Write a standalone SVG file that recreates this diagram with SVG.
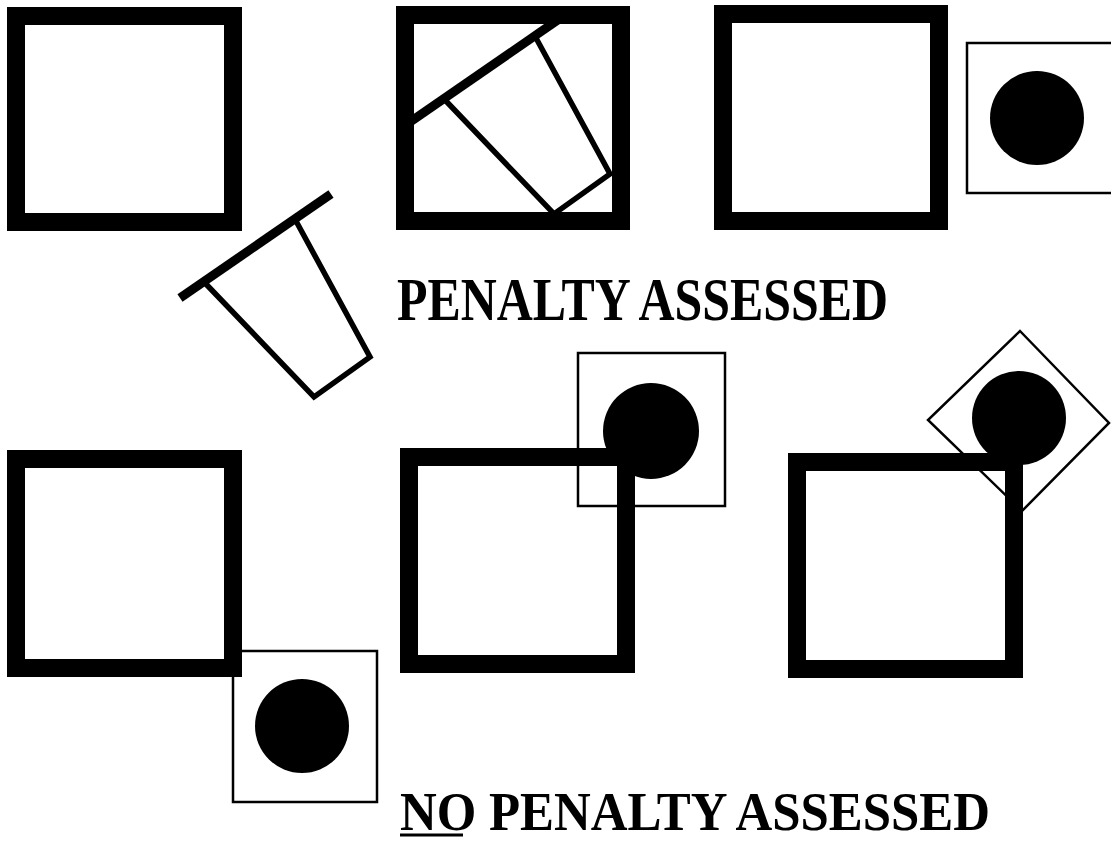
<svg xmlns="http://www.w3.org/2000/svg" width="1111" height="842" viewBox="0 0 1111 842">
<style>
.big{fill:none;stroke:#000;stroke-width:18}
.small{fill:none;stroke:#000;stroke-width:2.5}
.dot{fill:#000}
.lid{stroke:#000;stroke-width:9;fill:none}
.body{stroke:#000;stroke-width:5.5;fill:none;stroke-linejoin:miter}
.lbl{font-family:"Liberation Serif","Times New Roman",serif;font-weight:bold;fill:#000}
</style>
<rect width="1111" height="842" fill="#fff"/>
<g id="top-left">
<rect class="big" x="16" y="16" width="217" height="206"/>
</g>
<g id="cup-outside">
<polyline class="body" points="205,283 314,397 370,357 296,221"/>
<line class="lid" x1="180" y1="298" x2="331" y2="194"/>
</g>
<g id="top-middle">
<polyline class="body" points="445,100 554,214 610,174 536,38"/>
<line class="lid" x1="410" y1="122" x2="565" y2="15"/>
<rect class="big" x="405" y="15" width="216" height="206"/>
</g>
<g id="top-right">
<rect class="big" x="723" y="14" width="216" height="207"/>
</g>
<g id="puck-top-right">
<rect class="small" x="967" y="43" width="150" height="150"/>
<circle class="dot" cx="1037" cy="118" r="47"/>
</g>
<g id="label-penalty">
<text class="lbl" x="397" y="320" font-size="62" textLength="491" lengthAdjust="spacingAndGlyphs">PENALTY ASSESSED</text>
</g>
<g id="bottom-left">
<rect class="small" x="233" y="651" width="144" height="151"/>
<circle class="dot" cx="302" cy="726" r="47"/>
<rect class="big" x="16" y="459" width="217" height="209"/>
</g>
<g id="bottom-middle">
<rect class="small" x="578" y="353" width="147" height="153"/>
<circle class="dot" cx="651" cy="431" r="48"/>
<rect class="big" x="409" y="457" width="217" height="207"/>
</g>
<g id="bottom-right">
<polygon class="small" points="1020,331 1109,423 1022,511 928,420"/>
<circle class="dot" cx="1019" cy="418" r="47"/>
<rect class="big" x="797" y="462" width="217" height="207"/>
</g>
<g id="label-no-penalty">
<text class="lbl" x="400" y="830" font-size="54" textLength="590" lengthAdjust="spacingAndGlyphs">NO PENALTY ASSESSED</text>
<line x1="400" y1="835" x2="463" y2="835" stroke="#000" stroke-width="3"/>
</g>
<g id="connectors"></g>
</svg>
